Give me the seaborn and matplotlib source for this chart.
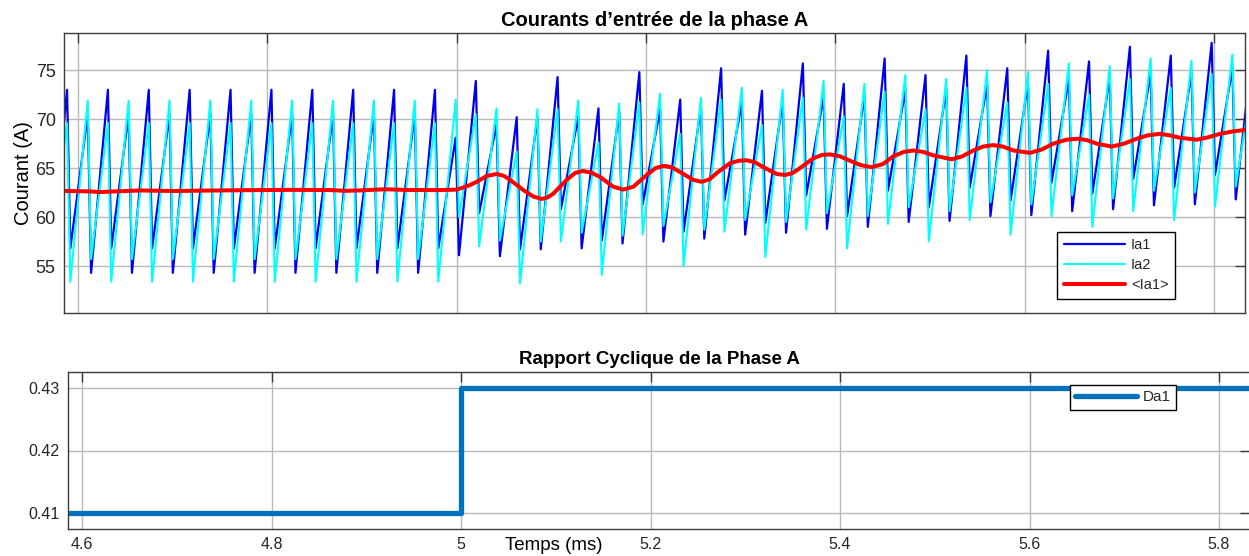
import numpy as np
import matplotlib
matplotlib.use("Agg")
import matplotlib.pyplot as plt
from matplotlib.ticker import FormatStrFormatter
import seaborn as sns

# ---------------------------------------------------------------------------
# Time base of the switching cycles (ms)
T_FIRST = 4.5884    # Ia1 turn-off instant of cycle 0
T_SW = 0.043182     # switching period
T_OFF = 0.0035      # interval where both switches are off
T_HALF = 0.0219     # Ia2 turn-off instant, relative to the Ia1 one
cycle_index = np.arange(-1, 30)

# Ia1 (A), one value per cycle: peak, after the common drop,
# value at Ia2 turn-off, valley
ia1_peak = [73.0] * 11 + [73.9, 70.2, 74.3, 71.1, 74.8, 72.0, 75.2, 72.9, 75.7,
                          73.6, 76.2, 74.5, 76.5, 75.2, 77.0, 75.9, 77.4, 76.5,
                          77.8, 77.2]
ia1_low = [56.8] * 11 + [60.4, 56.7, 60.8, 57.6, 61.3, 58.5, 61.7, 59.4, 62.2,
                         60.1, 62.7, 61.0, 63.0, 61.7, 63.5, 62.4, 63.9, 63.0,
                         64.3, 63.7]
ia1_mid = [70.5] * 10 + [68.1, 69.5, 70.2, 70.3, 70.8, 71.0, 71.3, 71.7, 71.9,
                         72.3, 72.5, 73.0, 73.1, 73.6, 73.7, 74.1, 74.3, 74.7,
                         74.8, 75.3, 75.4]
ia1_valley = [54.3] * 10 + [56.1, 56.0, 56.7, 56.8, 57.3, 57.5, 57.8, 58.2, 58.4,
                            58.8, 59.0, 59.5, 59.6, 60.1, 60.2, 60.6, 60.8, 61.2,
                            61.3, 61.8, 61.9]

# Ia2 (A), one value per cycle: value at Ia1 turn-off, valley, peak,
# after the common drop
ia2_mid = [69.6] * 11 + [70.5, 66.7, 71.0, 67.6, 71.7, 68.5, 72.0, 69.4, 72.2,
                         70.3, 72.8, 71.0, 73.2, 71.7, 73.6, 72.5, 74.1, 73.2,
                         74.6, 74.0]
ia2_valley = [53.4] * 11 + [57.0, 53.2, 57.5, 54.1, 58.2, 55.0, 58.5, 55.9, 58.7,
                            56.8, 59.3, 57.5, 59.7, 58.2, 60.1, 59.0, 60.6, 59.7,
                            61.05, 60.5]
ia2_peak = [71.9] * 10 + [72.0, 71.1, 71.0, 71.9, 71.6, 72.6, 72.2, 73.2, 73.0,
                          73.9, 73.6, 74.5, 74.1, 75.0, 74.8, 75.7, 75.4, 76.2,
                          75.95, 76.6, 76.4]
ia2_low = [55.7] * 10 + [60.0, 57.6, 57.5, 58.4, 58.1, 59.1, 58.7, 59.7, 59.5,
                         60.4, 60.1, 61.0, 60.6, 61.5, 61.3, 62.2, 61.9, 62.7,
                         62.5, 63.1, 62.9]

# Average of Ia1 (A)
avg_t = [4.5852, 4.6127, 4.6232, 4.6391, 4.6655, 4.7024, 4.7289, 4.7711, 4.8239,
         4.8662, 4.8820, 4.8979, 4.9243, 4.9507, 4.9824,
         5.0000, 5.0141, 5.0211, 5.0317, 5.0423, 5.0500, 5.0563, 5.0704, 5.0809,
         5.0898, 5.0960, 5.1021, 5.1162, 5.1250, 5.1331, 5.1420, 5.1514, 5.1654,
         5.1760, 5.1866, 5.2007, 5.2100, 5.2193, 5.2280, 5.2359, 5.2499, 5.2588,
         5.2670, 5.2747, 5.2887, 5.2980, 5.3063, 5.3150, 5.3239, 5.3380, 5.3468,
         5.3550, 5.3626, 5.3767, 5.3860, 5.3943, 5.4050, 5.4155, 5.4270, 5.4384,
         5.4500, 5.4612, 5.4720, 5.4823, 5.4930, 5.5034, 5.5229, 5.5340, 5.5457,
         5.5560, 5.5668, 5.5770, 5.5880, 5.6056, 5.6180, 5.6302, 5.6440, 5.6566,
         5.6660, 5.6760, 5.6919, 5.7050, 5.7183, 5.7300, 5.7429, 5.7530, 5.7640,
         5.7817, 5.7940, 5.8063, 5.8200, 5.8327]
avg_ia1 = [62.67, 62.62, 62.55, 62.62, 62.72, 62.66, 62.7, 62.74, 62.78,
           62.76, 62.68, 62.72, 62.84, 62.76, 62.76,
           62.8, 63.27, 63.6, 64.2, 64.4, 64.2, 63.8, 62.76, 62.1,
           61.85, 62.0, 62.4, 63.8, 64.5, 64.7, 64.55, 64.1, 63.1,
           62.8, 63.1, 64.3, 65.0, 65.24, 65.05, 64.6, 63.8, 63.6,
           63.85, 64.5, 65.5, 65.75, 65.8, 65.6, 65.1, 64.4, 64.3,
           64.5, 65.0, 66.0, 66.35, 66.4, 66.2, 65.75, 65.3, 65.1,
           65.4, 66.2, 66.65, 66.8, 66.65, 66.3, 65.9, 66.2, 66.8,
           67.2, 67.35, 67.2, 66.8, 66.56, 66.9, 67.5, 67.9, 68.0,
           67.85, 67.5, 67.2, 67.5, 68.0, 68.35, 68.5, 68.35, 68.1,
           67.9, 68.15, 68.5, 68.75, 68.9]

# Duty cycle of phase A
duty_t = [4.50, 5.00, 5.95]
duty_a1 = [0.41, 0.43, 0.43]

x_ticks = [4.6, 4.8, 5.0, 5.2, 5.4, 5.6, 5.8]
current_ticks = [55, 60, 65, 70, 75]
duty_ticks = [0.41, 0.42, 0.43]

# ---------------------------------------------------------------------------
t_k = T_FIRST + cycle_index * T_SW
t_wave = np.column_stack([t_k, t_k + T_OFF, t_k + T_HALF,
                          t_k + T_HALF + T_OFF]).ravel()
ia1 = np.column_stack([ia1_peak, ia1_low, ia1_mid, ia1_valley]).ravel()
ia2 = np.column_stack([ia2_mid, ia2_valley, ia2_peak, ia2_low]).ravel()

sns.set_theme(style="white")
plt.rcParams["font.family"] = ["Liberation Sans", "DejaVu Sans"]

W, H = 1249, 556
fig = plt.figure(figsize=(W / 100, H / 100), dpi=100)
ax1 = fig.add_axes([64 / W, 1 - 313 / H, 1181 / W, 280 / H])
ax2 = fig.add_axes([68 / W, 1 - 529 / H, 1182 / W, 157 / H])

frame_col = "#3c3c3c"
grid_col = "#b9b9b9"
text_col = "#262626"
xlim = (4.5852, 5.8327)

# --- input currents -------------------------------------------------------
sns.lineplot(x=t_wave, y=ia1, ax=ax1, color="#0000f0", lw=1.6, label="Ia1",
             sort=False, estimator=None)
sns.lineplot(x=t_wave, y=ia2, ax=ax1, color="#00ffff", lw=1.5, label="Ia2",
             sort=False, estimator=None)
sns.lineplot(x=avg_t, y=avg_ia1, ax=ax1, color="#ff0000", lw=2.9, label="<Ia1>",
             sort=False, estimator=None)

ax1.set_xlim(*xlim)
ax1.set_ylim(50.2, 78.8)
ax1.set_xticks(x_ticks)
ax1.set_yticks(current_ticks)
ax1.tick_params(labelbottom=False)
ax1.set_title("Courants d\u2019entrée de la phase A", fontsize=14.5,
              fontweight="bold", pad=5, color="black")
ax1.set_ylabel("Courant (A)", fontsize=14.5, color="black", labelpad=2)
ax1.legend(loc="lower right", bbox_to_anchor=((1175 - 64) / 1181, 14 / 280),
           frameon=True, fancybox=False, edgecolor="black", framealpha=1,
           fontsize=10.5, handlelength=4.2, labelspacing=0.42,
           borderpad=0.45, handletextpad=0.4, borderaxespad=0)

# --- duty cycle -------------------------------------------------------------
sns.lineplot(x=duty_t, y=duty_a1, ax=ax2, color="#0072bd", lw=3.8,
             label="Da1", drawstyle="steps-post", sort=False, estimator=None)
ax2.set_xlim(*xlim)
ax2.set_ylim(0.4074, 0.4326)
ax2.set_xticks(x_ticks)
ax2.set_yticks(duty_ticks)
ax2.xaxis.set_major_formatter(FormatStrFormatter("%g"))
ax2.yaxis.set_major_formatter(FormatStrFormatter("%.2f"))
ax2.set_title("Rapport Cyclique de la Phase A", fontsize=13.5, fontweight="bold",
              pad=6, color="black")
ax2.set_xlabel("Temps (ms)", fontsize=13.5, color="black")
ax2.xaxis.label.set_va("center")
ax2.xaxis.set_label_coords((554 - 68) / 1182, -0.102)
ax2.legend(loc="upper right", bbox_to_anchor=((1176 - 68) / 1182, 1 - 13 / 157),
           frameon=True, fancybox=False, edgecolor="black", framealpha=1,
           fontsize=11, handlelength=4.0, borderpad=0.35, handletextpad=0.4,
           borderaxespad=0)

for ax, fs in ((ax1, 13), (ax2, 11.5)):
    ax.set_facecolor("white")
    ax.grid(True, color=grid_col, lw=1.0)
    ax.set_axisbelow(True)
    ax.tick_params(direction="in", length=7, width=1, color=frame_col,
                   top=True, right=True, labelsize=fs, labelcolor=text_col,
                   pad=6)
    for sp in ax.spines.values():
        sp.set_color(frame_col)
        sp.set_linewidth(1.0)

fig.savefig("out.png", dpi=100, facecolor="white")
